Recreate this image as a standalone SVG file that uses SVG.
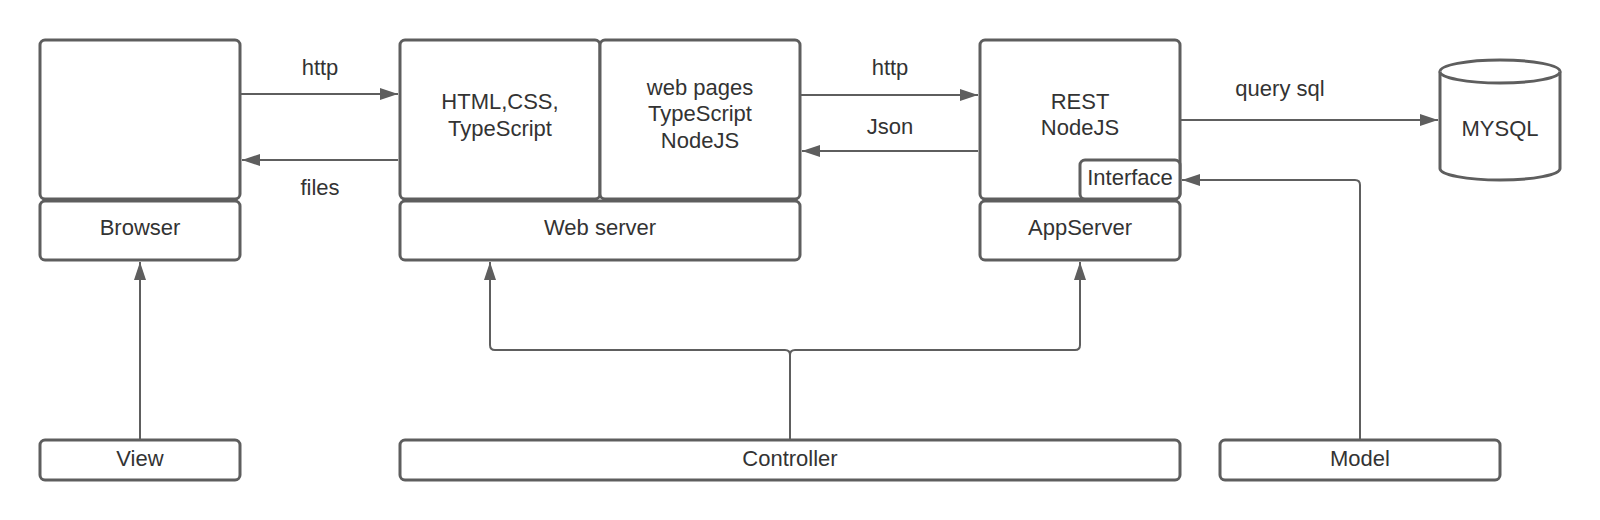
<svg xmlns="http://www.w3.org/2000/svg" width="1600" height="520" viewBox="0 0 1600 520">
<defs>
<style>
.box{fill:#ffffff;stroke:#5e5e5e;stroke-width:3}
.ln{fill:none;stroke:#5e5e5e;stroke-width:2}
text{font-family:"Liberation Sans",Arial,sans-serif;font-size:22px;fill:#333333;text-anchor:middle}
</style>
<marker id="ah" viewBox="0 0 18 12" refX="18" refY="6" markerWidth="18" markerHeight="12" markerUnits="userSpaceOnUse" orient="auto">
<path d="M0,0 L18,6 L0,12 Z" fill="#5e5e5e"/>
</marker>
</defs>
<rect width="1600" height="520" fill="#ffffff"/>

<g id="connectors">
<path class="ln" d="M241,94 H398" marker-end="url(#ah)"/>
<path class="ln" d="M398,160 H242" marker-end="url(#ah)"/>
<path class="ln" d="M801,95 H978" marker-end="url(#ah)"/>
<path class="ln" d="M978,151 H802" marker-end="url(#ah)"/>
<path class="ln" d="M1181,120 H1438" marker-end="url(#ah)"/>
<path class="ln" d="M1360,439 V185 Q1360,180 1355,180 H1182" marker-end="url(#ah)"/>
<path class="ln" d="M140,439 V262" marker-end="url(#ah)"/>
<path class="ln" d="M790,439 V355 Q790,350 785,350 H495 Q490,350 490,345 V262" marker-end="url(#ah)"/>
<path class="ln" d="M790,355 Q790,350 795,350 H1075 Q1080,350 1080,345 V262" marker-end="url(#ah)"/>
<text x="320" y="75">http</text>
<text x="320" y="195">files</text>
<text x="890" y="75">http</text>
<text x="890" y="134">Json</text>
<text x="1280" y="96">query sql</text>
</g>

<g id="browser">
<rect class="box" x="40" y="40" width="200" height="159" rx="5"/>
<rect class="box" x="40" y="201" width="200" height="59" rx="5"/>
<text x="140" y="235">Browser</text>
</g>

<g id="webserver">
<rect class="box" x="400" y="40" width="200" height="159" rx="5"/>
<rect class="box" x="600" y="40" width="200" height="159" rx="5"/>
<rect class="box" x="400" y="201" width="400" height="59" rx="5"/>
<text x="500" y="109">HTML,CSS,</text>
<text x="500" y="136">TypeScript</text>
<text x="700" y="95">web pages</text>
<text x="700" y="121">TypeScript</text>
<text x="700" y="148">NodeJS</text>
<text x="600" y="235">Web server</text>
</g>

<g id="appserver">
<rect class="box" x="980" y="40" width="200" height="159" rx="5"/>
<rect class="box" x="1080" y="160" width="100" height="39" rx="5"/>
<rect class="box" x="980" y="201" width="200" height="59" rx="5"/>
<text x="1080" y="109">REST</text>
<text x="1080" y="135">NodeJS</text>
<text x="1130" y="185">Interface</text>
<text x="1080" y="235">AppServer</text>
</g>

<g id="mysql">
<path class="box" d="M1440,71.5 V168.5 A60,11.5 0 0 0 1560,168.5 V71.5 A60,11.5 0 0 0 1440,71.5 Z"/>
<path class="box" fill="none" d="M1440,71.5 A60,11.5 0 0 0 1560,71.5"/>
<text x="1500" y="136">MYSQL</text>
</g>

<g id="view">
<rect class="box" x="40" y="440" width="200" height="40" rx="5"/>
<text x="140" y="466">View</text>
</g>

<g id="controller">
<rect class="box" x="400" y="440" width="780" height="40" rx="5"/>
<text x="790" y="466">Controller</text>
</g>

<g id="model">
<rect class="box" x="1220" y="440" width="280" height="40" rx="5"/>
<text x="1360" y="466">Model</text>
</g>
</svg>
